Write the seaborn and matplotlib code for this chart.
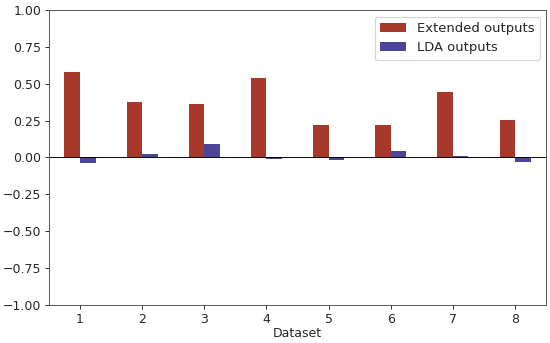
import numpy as np
import pandas as pd
import matplotlib
matplotlib.use("Agg")
import matplotlib.pyplot as plt
import seaborn as sns

datasets = ["1", "2", "3", "4", "5", "6", "7", "8"]
extended = [0.576, 0.377, 0.359, 0.540, 0.219, 0.219, 0.447, 0.255]
lda = [-0.038, 0.025, 0.090, -0.010, -0.020, 0.043, 0.013, -0.034]
series = ["Extended outputs", "LDA outputs"]
colors = ["#a8382a", "#4b4499"]

df = pd.DataFrame({
    "Dataset": datasets * 2,
    "value": extended + lda,
    "series": [series[0]] * len(datasets) + [series[1]] * len(datasets),
})

sns.set_style("white")
fig = plt.figure(figsize=(550 / 86, 343 / 86), dpi=86)
ax = fig.add_axes([0.089, 0.111, 0.904, 0.86])

sns.barplot(data=df, x="Dataset", y="value", hue="series", order=datasets,
            hue_order=series, palette=colors, width=0.5, saturation=1,
            errorbar=None, linewidth=0, ax=ax)

ax.axhline(0, color="black", linewidth=0.8)
ax.set_ylim(-1, 1)
ax.set_xlim(-0.5, len(datasets) - 0.5)
ax.set_yticks(np.arange(-1, 1.01, 0.25))
ax.set_xlabel("Dataset", fontsize=10.5, labelpad=1)
ax.set_ylabel("")
ax.tick_params(axis="both", labelsize=10.5, length=3.5, width=0.8, direction="out",
               left=True, bottom=True, pad=3)
for s in ax.spines.values():
    s.set_color("#555555")
    s.set_linewidth(0.8)
ax.legend(loc="upper right", fontsize=11)

fig.savefig("out.png", dpi=86)
